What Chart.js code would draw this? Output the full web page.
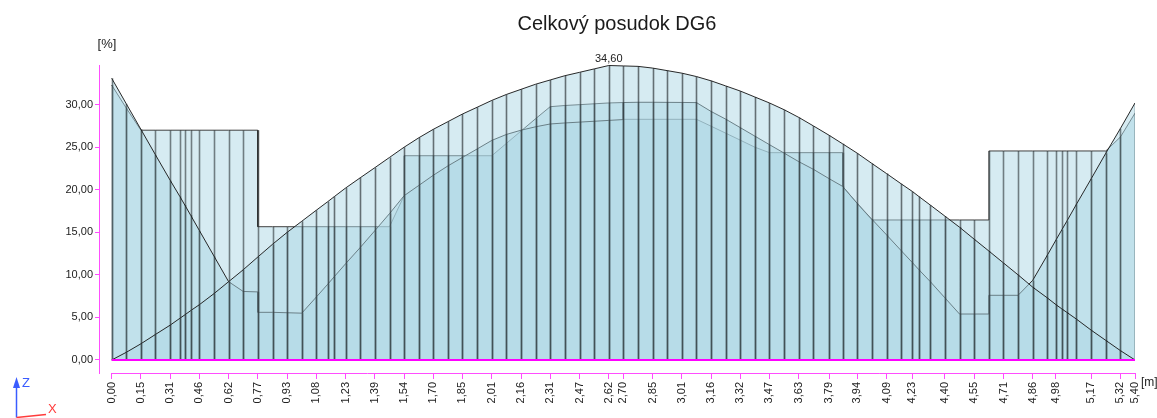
<!DOCTYPE html>
<html>
<head>
<meta charset="utf-8">
<script src="https://cdn.jsdelivr.net/npm/chart.js@4.4.1/dist/chart.umd.min.js"></script>
<style>
  html, body { margin: 0; padding: 0; background: #ffffff; }
  #wrap { width: 1157px; height: 418px; }
</style>
</head>
<body>
<div id="wrap"><canvas id="chart" width="1157" height="418"></canvas></div>
<script>
// Result stations along the member [m]
const stations = [0, 0.077, 0.154, 0.231, 0.309, 0.36, 0.386, 0.417, 0.463, 0.54, 0.617, 0.694, 0.771, 0.849, 0.926, 1.003, 1.08, 1.14, 1.175, 1.234, 1.311, 1.389, 1.466, 1.543, 1.62, 1.697, 1.774, 1.851, 1.929, 2.006, 2.083, 2.16, 2.237, 2.314, 2.391, 2.469, 2.546, 2.623, 2.7, 2.777, 2.854, 2.931, 3.009, 3.086, 3.163, 3.24, 3.317, 3.394, 3.471, 3.549, 3.626, 3.703, 3.786, 3.857, 3.934, 4.011, 4.089, 4.166, 4.225, 4.26, 4.32, 4.397, 4.474, 4.551, 4.629, 4.706, 4.783, 4.86, 4.937, 4.983, 5.014, 5.04, 5.091, 5.169, 5.246, 5.323, 5.4];

// Bending utilisation [%] at each station
const bendingUtil = [0, 0.9, 1.9, 3.0, 4.1, 4.9, 5.3, 5.8, 6.5, 7.8, 9.2, 10.6, 12.1, 13.6, 15.0, 16.3, 17.6, 18.6, 19.2, 20.2, 21.4, 22.6, 23.8, 25.0, 26.1, 27.1, 28.0, 28.9, 29.7, 30.5, 31.2, 31.8, 32.4, 32.9, 33.4, 33.8, 34.2, 34.6, 34.55, 34.5, 34.3, 34.0, 33.7, 33.3, 32.8, 32.2, 31.6, 30.9, 30.2, 29.4, 28.5, 27.5, 26.4, 25.4, 24.3, 23.1, 21.9, 20.7, 19.8, 19.2, 18.2, 16.9, 15.6, 14.2, 12.8, 11.4, 10.0, 8.56, 7.3, 6.5, 6.0, 5.6, 4.8, 3.5, 2.3, 1.1, 0];

// Shear / interaction utilisation [%] (stations repeated where the value jumps)
const shearX = [0, 0.077, 0.154, 0.231, 0.309, 0.36, 0.386, 0.417, 0.463, 0.54, 0.617, 0.694, 0.771, 0.771, 0.849, 0.926, 1.003, 1.08, 1.14, 1.175, 1.234, 1.311, 1.389, 1.466, 1.543, 1.62, 1.697, 1.774, 1.851, 1.929, 2.006, 2.083, 2.16, 2.237, 2.314, 2.391, 2.469, 2.546, 2.623, 2.7, 2.7, 2.777, 2.854, 2.931, 3.009, 3.086, 3.163, 3.24, 3.317, 3.394, 3.471, 3.549, 3.626, 3.703, 3.786, 3.857, 3.934, 4.011, 4.089, 4.166, 4.225, 4.26, 4.32, 4.397, 4.474, 4.551, 4.629, 4.629, 4.706, 4.783, 4.86, 4.937, 4.983, 5.014, 5.04, 5.091, 5.169, 5.246, 5.323, 5.4];
const shearUtil = [33.1, 30.1, 27.1, 24.1, 21.1, 19.2, 18.2, 17.0, 15.2, 12.2, 9.2, 8.05, 8.0, 5.6, 5.6, 5.55, 5.5, 7.4, 8.9, 9.8, 11.3, 13.2, 15.2, 17.2, 19.3, 20.5, 21.7, 22.8, 23.8, 24.8, 25.8, 26.5, 27.0, 27.4, 27.73, 27.85, 27.95, 28.05, 28.15, 28.25, 30.25, 30.28, 30.28, 30.27, 30.26, 30.24, 29.2, 28.3, 27.3, 26.3, 25.3, 24.3, 23.3, 22.4, 21.3, 20.4, 18.4, 16.55, 14.7, 12.85, 11.45, 10.6, 9.2, 7.3, 5.4, 5.4, 5.4, 7.6, 7.6, 7.6, 9.35, 12.3, 14.1, 15.3, 16.3, 18.3, 21.3, 24.3, 27.2, 30.2];

// Cross-section check utilisation [%] (stepped by segment)
const sectionX = [0, 0.077, 0.154, 0.231, 0.309, 0.36, 0.386, 0.417, 0.463, 0.54, 0.617, 0.694, 0.771, 0.771, 0.849, 0.926, 1.003, 1.08, 1.14, 1.175, 1.234, 1.311, 1.389, 1.466, 1.543, 1.543, 1.62, 1.697, 1.774, 1.851, 1.929, 2.006, 2.083, 2.16, 2.237, 2.314, 2.391, 2.469, 2.546, 2.623, 2.7, 2.7, 2.777, 2.854, 2.931, 3.009, 3.086, 3.163, 3.24, 3.317, 3.394, 3.471, 3.549, 3.626, 3.703, 3.786, 3.857, 3.857, 3.934, 4.011, 4.089, 4.166, 4.225, 4.26, 4.32, 4.397, 4.474, 4.551, 4.629, 4.629, 4.706, 4.783, 4.86, 4.937, 4.983, 5.014, 5.04, 5.091, 5.169, 5.246, 5.323, 5.4];
const sectionUtil = [32.3, 29.6, 27.0, 27.0, 27.0, 27.0, 27.0, 27.0, 27.0, 27.0, 27.0, 27.0, 27.0, 15.66, 15.66, 15.66, 15.66, 15.66, 15.66, 15.66, 15.66, 15.66, 15.66, 15.66, 19.3, 24.0, 24.0, 24.0, 24.0, 24.0, 24.0, 24.0, 25.45, 26.9, 28.35, 29.76, 29.9, 30.0, 30.1, 30.2, 30.25, 28.28, 28.28, 28.28, 28.28, 28.28, 28.28, 27.47, 26.65, 25.83, 25.0, 24.36, 24.36, 24.36, 24.36, 24.36, 24.36, 20.4, 18.4, 16.45, 16.45, 16.45, 16.45, 16.45, 16.45, 16.45, 16.45, 16.45, 16.45, 24.56, 24.56, 24.56, 24.56, 24.56, 24.56, 24.56, 24.56, 24.56, 24.56, 24.56, 26.2, 29.0];

// Axis ticks
const xTickValues = [0, 0.154, 0.309, 0.463, 0.617, 0.771, 0.926, 1.08, 1.234, 1.389, 1.543, 1.697, 1.851, 2.006, 2.16, 2.314, 2.469, 2.623, 2.7, 2.854, 3.009, 3.163, 3.317, 3.471, 3.626, 3.786, 3.934, 4.089, 4.225, 4.397, 4.551, 4.706, 4.86, 4.983, 5.169, 5.323, 5.4];
const xTickLabels = ['0,00', '0,15', '0,31', '0,46', '0,62', '0,77', '0,93', '1,08', '1,23', '1,39', '1,54', '1,70', '1,85', '2,01', '2,16', '2,31', '2,47', '2,62', '2,70', '2,85', '3,01', '3,16', '3,32', '3,47', '3,63', '3,79', '3,94', '4,09', '4,23', '4,40', '4,55', '4,71', '4,86', '4,98', '5,17', '5,32', '5,40'];
const yTickValues = [0, 5, 10, 15, 20, 25, 30];

const FONT = 'Liberation Sans, Arial, sans-serif';
const AXIS_PINK = '#ff4dff';
const FILL = 'rgba(173, 216, 230, 0.5)';

const toPoints = (xs, ys) => xs.map((x, i) => ({ x: x, y: ys[i] }));
const fmt = v => v.toFixed(2).replace('.', ',');

// Vertical line at every result station, from zero up to the diagram
const stationLines = {
  id: 'stationLines',
  afterDatasetDraw(chart, args) {
    const ds = chart.data.datasets[args.index];
    if (!ds.stationColor) return;
    const ctx = chart.ctx;
    const area = chart.chartArea;
    const y0 = chart.scales.y.getPixelForValue(0);
    ctx.save();
    ctx.beginPath();
    ctx.rect(area.left, area.top, area.right - area.left, area.bottom - area.top);
    ctx.clip();
    ctx.beginPath();
    args.meta.data.forEach(pt => {
      ctx.moveTo(Math.round(pt.x) + 0.5, y0);
      ctx.lineTo(Math.round(pt.x) + 0.5, pt.y);
    });
    ctx.strokeStyle = ds.stationColor;
    ctx.lineWidth = 1.6;
    ctx.stroke();
    ctx.restore();
  }
};

// Zero line, bottom axis line, unit labels, maximum label and orientation icon
const decorations = {
  id: 'decorations',
  afterDatasetsDraw(chart) {
    const ctx = chart.ctx;
    const xs = chart.scales.x, ys = chart.scales.y;
    const y0 = ys.getPixelForValue(0);
    ctx.save();
    ctx.strokeStyle = '#ff00ff';
    ctx.lineWidth = 2;
    ctx.beginPath();
    ctx.moveTo(xs.getPixelForValue(stations[0]), y0);
    ctx.lineTo(xs.getPixelForValue(stations[stations.length - 1]), y0);
    ctx.stroke();
    ctx.restore();
  },
  afterDraw(chart) {
    const ctx = chart.ctx;
    const xs = chart.scales.x, ys = chart.scales.y;
    const area = chart.chartArea;
    ctx.save();
    // bottom axis line
    ctx.strokeStyle = AXIS_PINK;
    ctx.lineWidth = 1;
    ctx.beginPath();
    ctx.moveTo(xs.getPixelForValue(stations[0]), area.bottom + 0.5);
    ctx.lineTo(xs.getPixelForValue(stations[stations.length - 1]), area.bottom + 0.5);
    ctx.stroke();

    // unit labels
    ctx.fillStyle = '#222';
    ctx.font = '13px ' + FONT;
    ctx.textAlign = 'center';
    ctx.textBaseline = 'middle';
    ctx.fillText('[%]', area.left + 8, area.top - 21);
    ctx.font = '12px ' + FONT;
    ctx.textAlign = 'left';
    ctx.fillText('[m]', area.right + 6, area.bottom + 10);

    // label of the maximum
    const meta = chart.getDatasetMeta(0);
    let iMax = 0;
    bendingUtil.forEach((v, i) => { if (v > bendingUtil[iMax]) iMax = i; });
    const pt = meta.data[iMax];
    ctx.font = '11px ' + FONT;
    ctx.textAlign = 'center';
    ctx.textBaseline = 'alphabetic';
    ctx.fillStyle = '#222';
    ctx.fillText(fmt(bendingUtil[iMax]), pt.x, pt.y - 4);

    // global axes icon
    const ox = 16.5, oy = 417.5;
    ctx.strokeStyle = '#3a5cff';
    ctx.fillStyle = '#3a5cff';
    ctx.lineWidth = 1.5;
    ctx.beginPath(); ctx.moveTo(ox, oy); ctx.lineTo(ox, 384); ctx.stroke();
    ctx.beginPath(); ctx.moveTo(ox, 377); ctx.lineTo(ox - 3.5, 388); ctx.lineTo(ox + 3.5, 388); ctx.closePath(); ctx.fill();
    ctx.font = '13px ' + FONT;
    ctx.textAlign = 'left';
    ctx.textBaseline = 'middle';
    ctx.fillText('Z', 22, 383);
    ctx.strokeStyle = '#ff3b3b';
    ctx.fillStyle = '#ff3b3b';
    ctx.beginPath(); ctx.moveTo(ox, oy); ctx.lineTo(46, 414.5); ctx.stroke();
    ctx.fillText('X', 48, 409);
    ctx.restore();
  }
};

Chart.defaults.font.family = FONT;

new Chart(document.getElementById('chart'), {
  type: 'line',
  data: {
    datasets: [
      {
        label: 'Ohyb',
        data: toPoints(stations, bendingUtil),
        fill: 'origin',
        backgroundColor: FILL,
        borderColor: 'rgba(30, 30, 30, 0.95)',
        borderWidth: 1,
        pointRadius: 0,
        tension: 0,
        stationColor: 'rgba(30, 36, 38, 0.62)'
      },
      {
        label: 'Šmyk',
        data: toPoints(shearX, shearUtil),
        fill: 'origin',
        backgroundColor: FILL,
        borderColor: 'rgba(30, 30, 30, 0.95)',
        borderWidth: 1,
        pointRadius: 0,
        tension: 0,
        stationColor: 'rgba(30, 36, 38, 0.55)'
      },
      {
        label: 'Prierez',
        data: toPoints(sectionX, sectionUtil),
        fill: 'origin',
        backgroundColor: FILL,
        borderColor: 'rgba(45, 45, 45, 0.9)',
        borderWidth: 1,
        pointRadius: 0,
        tension: 0,
        stationColor: 'rgba(30, 36, 38, 0.55)'
      }
    ]
  },
  options: {
    responsive: false,
    animation: false,
    events: [],
    layout: { padding: { left: 0, right: 22, top: 0, bottom: 0 } },
    plugins: {
      legend: { display: false },
      tooltip: { enabled: false },
      title: {
        display: true,
        text: 'Celkový posudok DG6',
        fullSize: false,
        color: '#1a1a1a',
        font: { family: FONT, size: 20, weight: 'normal' },
        padding: { top: 12, bottom: 29 }
      }
    },
    scales: {
      x: {
        type: 'linear',
        min: -0.067,
        max: 5.4,
        afterBuildTicks: s => { s.ticks = xTickValues.map(v => ({ value: v })); },
        afterFit: s => { s.height = 45; },
        ticks: {
          autoSkip: false,
          minRotation: 90,
          maxRotation: 90,
          padding: 3,
          color: '#222',
          font: { family: FONT, size: 11 },
          callback: (v, i) => xTickLabels[i]
        },
        grid: { drawOnChartArea: false, drawTicks: true, tickLength: 6, color: AXIS_PINK },
        border: { display: false }
      },
      y: {
        type: 'linear',
        min: -1.53,
        max: 34.66,
        afterBuildTicks: s => { s.ticks = yTickValues.map(v => ({ value: v })); },
        afterFit: s => { s.width = 99; },
        ticks: {
          padding: 2,
          color: '#222',
          font: { family: FONT, size: 11 },
          callback: v => fmt(v)
        },
        grid: { drawOnChartArea: false, drawTicks: true, tickLength: 4, color: AXIS_PINK },
        border: { display: true, color: AXIS_PINK, width: 1 }
      }
    }
  },
  plugins: [stationLines, decorations]
});
</script>
</body>
</html>
